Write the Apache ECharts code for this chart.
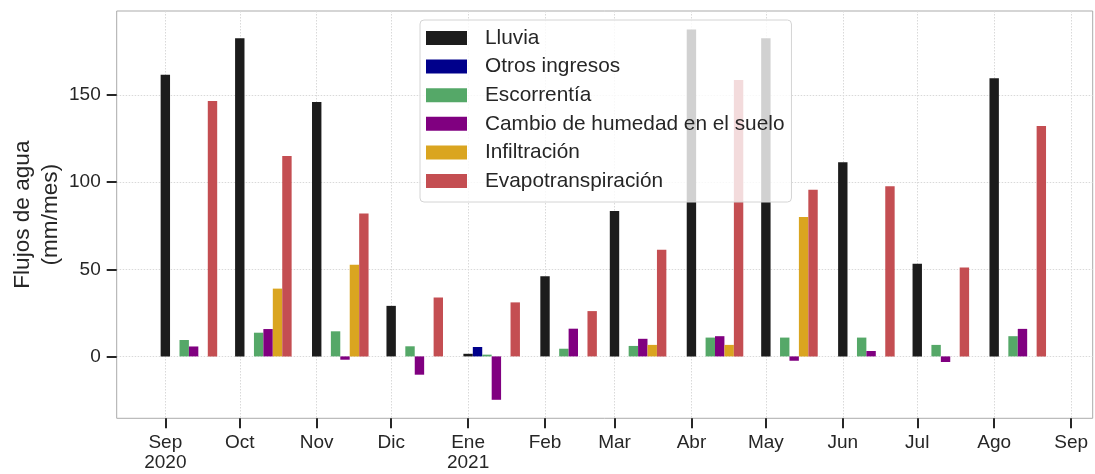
<!DOCTYPE html>
<html>
<head>
<meta charset="utf-8">
<title>Flujos de agua mensuales</title>
<script src="https://cdn.jsdelivr.net/npm/echarts@6/dist/echarts.min.js"></script>
<style>
  html, body { margin: 0; padding: 0; background: #ffffff; }
  #chart { width: 1095px; height: 474px; }
</style>
</head>
<body>
<div id="chart"></div>
<script>
// Monthly water balance, Sep 2020 - Aug 2021 (mm/mes)
const months = ['2020-09', '2020-10', '2020-11', '2020-12', '2021-01', '2021-02',
                '2021-03', '2021-04', '2021-05', '2021-06', '2021-07', '2021-08'];
const tickMonths = ['2020-09', '2020-10', '2020-11', '2020-12', '2021-01', '2021-02', '2021-03',
                    '2021-04', '2021-05', '2021-06', '2021-07', '2021-08', '2021-09'];
const tickLabels = ['Sep\n2020', 'Oct', 'Nov', 'Dic', 'Ene\n2021', 'Feb', 'Mar',
                    'Abr', 'May', 'Jun', 'Jul', 'Ago', 'Sep'];
const yTicks = [0, 50, 100, 150];

const lluvia        = [161.7, 182.6, 146.0, 29.0, 1.5, 46.0, 83.4, 187.6, 182.6, 111.4, 53.2, 159.6];
const otrosIngresos = [0, 0, 0, 0, 5.4, 0, 0, 0, 0, 0, 0, 0];
const escorrentia   = [9.4, 13.6, 14.4, 5.8, 1.0, 4.4, 6.0, 10.8, 10.8, 10.8, 6.6, 11.6];
const cambioHumedad = [5.7, 15.7, -1.9, -10.5, -24.9, 15.9, 10.1, 11.6, -2.5, 3.1, -3.2, 15.8];
const infiltracion  = [0, 38.9, 52.6, 0, 0, 0, 6.6, 6.6, 80.0, 0, 0, 0];
const evapotransp   = [146.6, 115.0, 82.0, 33.8, 31.0, 26.0, 61.2, 158.6, 95.6, 97.7, 51.0, 132.2];

const seriesDefs = [
  { name: 'Lluvia', values: lluvia, color: '#1c1c1c' },
  { name: 'Otros ingresos', values: otrosIngresos, color: '#00008b' },
  { name: 'Escorrentía', values: escorrentia, color: '#55a868' },
  { name: 'Cambio de humedad en el suelo', values: cambioHumedad, color: '#800080' },
  { name: 'Infiltración', values: infiltracion, color: '#daa520' },
  { name: 'Evapotranspiración', values: evapotransp, color: '#c44e52' }
];

const DAY = 86400000;
const STEP_DAYS = 3.8;          // each series is shifted by one bar width in time
const toTime = (m) => { const [y, mo] = m.split('-').map(Number); return Date.UTC(y, mo - 1, 1); };

const tickTimes = tickMonths.map(toTime);
const labelByTime = {};
tickTimes.forEach((t, i) => { labelByTime[t] = tickLabels[i]; });

// y range with a 5 % margin around the data
const allVals = seriesDefs.flatMap(s => s.values);
const dMin = Math.min(...allVals), dMax = Math.max(...allVals);
const span = dMax - dMin;
const yMin = dMin - 0.05 * span;
const yMax = dMax + 0.05 * span;

const FONT = 'Liberation Sans, Arial, sans-serif';
const TEXT = '#262626';
const gridLine = { show: true, lineStyle: { color: '#d9d9d9', width: 1, type: [1.5, 1.5] } };

const chart = echarts.init(document.getElementById('chart'), null, { renderer: 'canvas' });

chart.setOption({
  animation: false,
  textStyle: { fontFamily: FONT, color: TEXT },
  grid: {
    left: 116.7, right: 2.3, top: 11, bottom: 55.7,
    outerBoundsMode: 'none',
    containLabel: false,
    show: true, borderColor: '#ababab', borderWidth: 1, backgroundColor: 'transparent'
  },
  legend: {
    orient: 'vertical',
    left: 420, top: 20,
    padding: [7, 7, 10, 6],
    itemWidth: 41, itemHeight: 14, itemGap: 6.6,
    icon: 'rect',
    backgroundColor: 'rgba(255,255,255,0.8)',
    borderColor: '#d4d4d4', borderWidth: 1, borderRadius: 4,
    z: 10,
    textStyle: { fontFamily: FONT, fontSize: 20.8, lineHeight: 22, color: TEXT, padding: [0, 0, 0, 13] },
    data: seriesDefs.map(s => s.name)
  },
  xAxis: {
    // dates as UTC milliseconds on a linear scale
    type: 'value',
    min: toTime('2020-09') - 19.6 * DAY,
    max: toTime('2021-09') + 8.7 * DAY,
    axisLine: { show: false, onZero: false },
    axisTick: {
      show: true, inside: false, length: 10, customValues: tickTimes,
      lineStyle: { color: TEXT, width: 2 }
    },
    axisLabel: {
      customValues: tickTimes,
      margin: 14,
      fontFamily: FONT, fontSize: 19, lineHeight: 20, color: TEXT,
      align: 'center',
      formatter: (v) => labelByTime[v] || ''
    },
    splitLine: gridLine
  },
  yAxis: {
    type: 'value',
    min: yMin, max: yMax,
    name: 'Flujos de agua\n(mm/mes)',
    nameLocation: 'middle',
    nameRotate: 90,
    nameGap: 52,
    nameMoveOverlap: false,
    nameTextStyle: { fontFamily: FONT, fontSize: 22.6, lineHeight: 28, color: TEXT, align: 'center' },
    axisLine: { show: false, onZero: false },
    axisTick: {
      show: true, inside: false, length: 10, customValues: yTicks,
      lineStyle: { color: TEXT, width: 2 }
    },
    axisLabel: {
      customValues: yTicks,
      margin: 16, fontFamily: FONT, fontSize: 19, color: TEXT
    },
    splitLine: gridLine
  },
  series: seriesDefs.map((s, k) => ({
    name: s.name,
    type: 'bar',
    barWidth: 9.4,
    barGap: '-100%',
    itemStyle: { color: s.color },
    emphasis: { disabled: true },
    data: months.map((m, i) => [toTime(m) + k * STEP_DAYS * DAY, s.values[i]])
  }))
});
</script>
</body>
</html>
